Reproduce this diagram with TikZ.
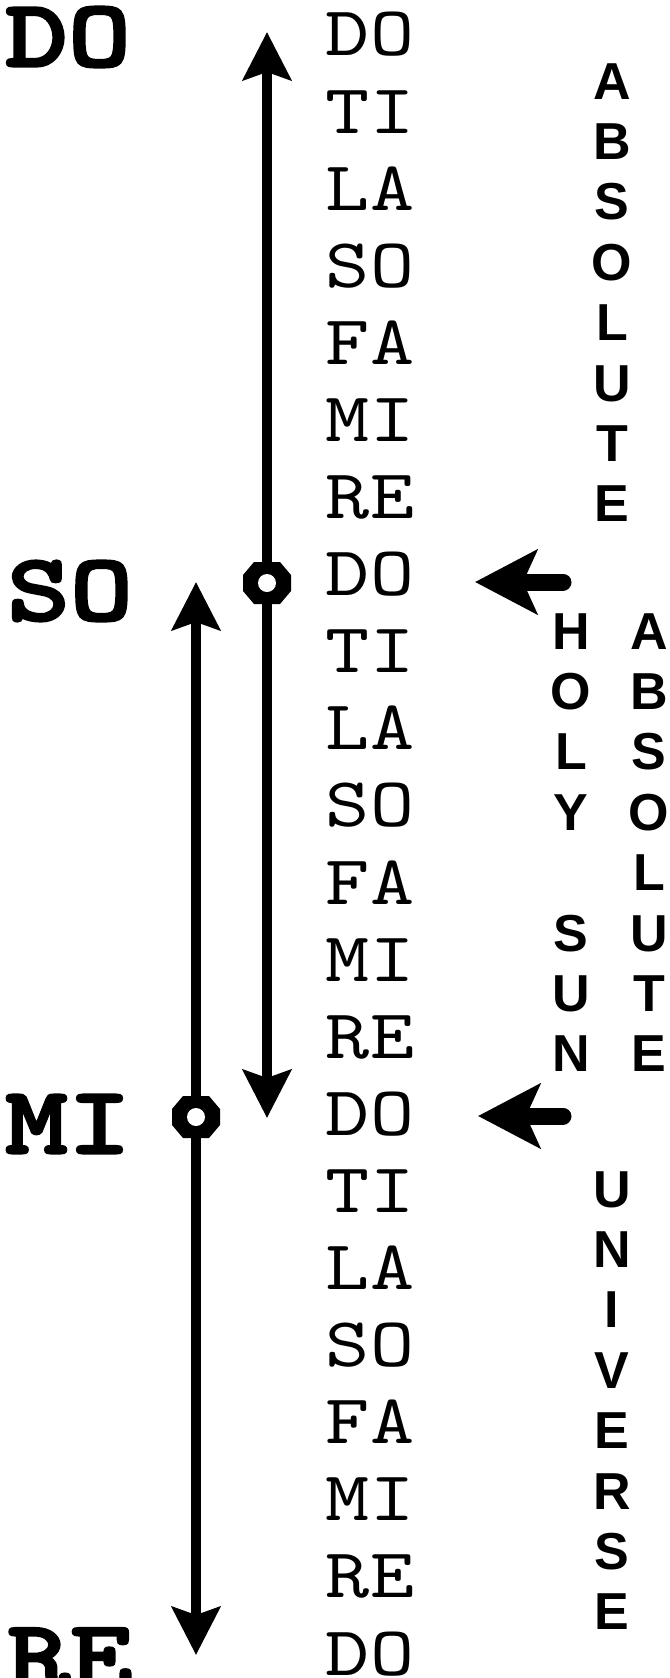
\documentclass[tikz,border=0pt]{standalone}
\usepackage{fontspec}
\usetikzlibrary{arrows.meta}
\newfontfamily\notefont{lmmono10-regular}[Extension=.otf, FakeStretch=1.2]
\newfontfamily\labfont{lmmonolt10-bold}[Extension=.otf, FakeStretch=1.25, FakeBold=2.5]
\newfontfamily\wordfont{Liberation Sans}
\tikzset{
	note/.style={inner sep=0pt, anchor=north, align=center, font={\notefont\fontsize{35}{38.55}\selectfont}},
	lab/.style={inner sep=0pt, font={\labfont\fontsize{48}{48}\selectfont}},
	word/.style={inner sep=0pt, anchor=north, align=center, font={\wordfont\bfseries\fontsize{26}{30.2}\selectfont}},
	vline/.style={line width=5pt, {Stealth[length=24pt,width=24pt,inset=4pt]}-{Stealth[length=24pt,width=24pt,inset=4pt]}},
	pointer/.style={line width=8.5pt, line cap=round, -{Stealth[length=31pt,width=32pt,inset=7pt]}},
	ring/.pic={
		\fill (-24,-8) -- (-13,-21) -- (13,-21) -- (24,-8) -- (24,8) -- (13,21) -- (-13,21) -- (-24,8) -- cycle;
		\fill[white] (0,0) circle (9);
	}
}
\begin{document}
\begin{tikzpicture}[x=0.5pt, y=-0.5pt]
	\useasboundingbox (0,0) rectangle (670,1678);
	\node[lab] (ldo) at (68,37) {DO};
	\node[lab] (lso) at (70,591) {SO};
	\node[lab] (lmi) at (68,1124) {MI};
	\node[lab] (lre) at (70,1658) {RE};
	\node[note] (notes) at (370,12) {DO\\TI\\LA\\SO\\FA\\MI\\RE\\DO\\TI\\LA\\SO\\FA\\MI\\RE\\DO\\TI\\LA\\SO\\FA\\MI\\RE\\DO};
	\node[word] (abs1) at (612,63) {A\\B\\S\\O\\L\\U\\T\\E};
	\node[word] (holy) at (571,613) {H\\O\\L\\Y\\\mbox{}\\S\\U\\N};
	\node[word] (abs2) at (649,613) {A\\B\\S\\O\\L\\U\\T\\E};
	\node[word] (univ) at (612,1171) {U\\N\\I\\V\\E\\R\\S\\E};
	\coordinate (a1top) at (267,32);
	\coordinate (a1bot) at (267,1118);
	\coordinate (a2top) at (196,582);
	\coordinate (a2bot) at (196,1655);
	\draw[vline] (a1bot) -- (a1top);
	\draw[vline] (a2bot) -- (a2top);
	\coordinate (m1) at (267,583);
	\coordinate (m2) at (196,1117);
	\pic at (m1) {ring};
	\pic at (m2) {ring};
	\coordinate (p1tail) at (563,582);
	\coordinate (p1tip) at (475,582);
	\coordinate (p2tail) at (563,1116);
	\coordinate (p2tip) at (478,1116);
	\draw[pointer] (p1tail) -- (p1tip);
	\draw[pointer] (p2tail) -- (p2tip);
\end{tikzpicture}
\end{document}
